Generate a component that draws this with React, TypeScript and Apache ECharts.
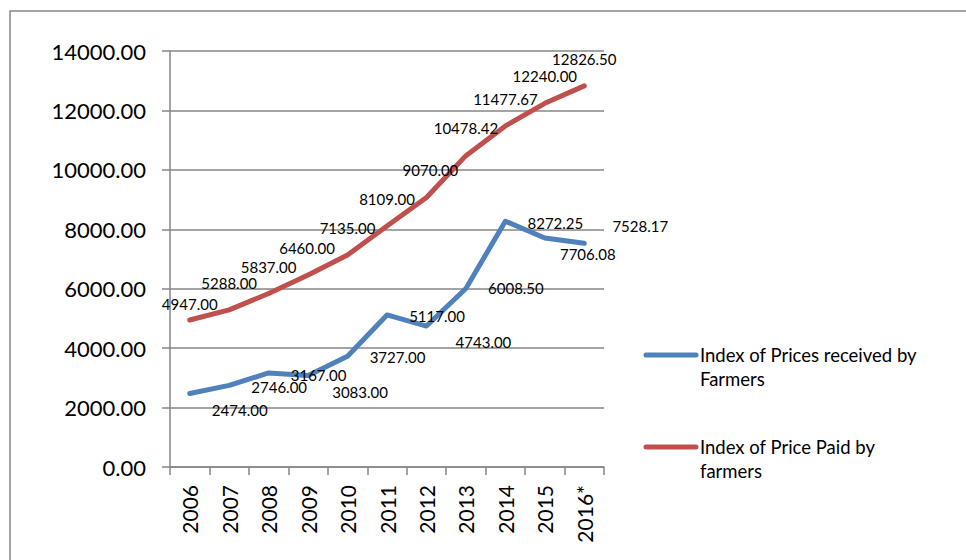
import React, { useEffect, useRef } from "react";
import * as echarts from "echarts";

const years = ["2006", "2007", "2008", "2009", "2010", "2011", "2012", "2013", "2014", "2015", "2016*"];
const pricesReceived = [2474, 2746, 3167, 3083, 3727, 5117, 4743, 6008.5, 8272.25, 7706.08, 7528.17];
const pricesPaid = [4947, 5288, 5837, 6460, 7135, 8109, 9070, 10478.42, 11477.67, 12240, 12826.5];
const yTicks = { min: 0, max: 14000, interval: 2000 };
const seriesNames = ["Index of Prices received by Farmers", "Index of Price Paid by farmers"];
const legendLines = [
  "Index of Prices received by\nFarmers",
  "Index of Price Paid by\nfarmers",
];

// label placement (style only)
const receivedLabelOffsets = [
  [50, 17], [50, 2], [50, 2], [52, 17], [50, 1], [50, 1], [57, 16], [50, 0], [50, 2], [43, 16], [56, -17],
];
const paidLabelOffsets = [
  [0, -16], [0, -27], [0, -27], [-1, -27], [0, -27], [0, -27], [4, -27], [0, -28], [0, -27], [0, -27], [0, -27],
];

const BLUE = "#4F81BD";
const RED = "#C0504D";
const GRAY = "#868686";
const FONT = "Lato, 'Open Sans', sans-serif";

export default function App() {
  const ref = useRef<HTMLDivElement>(null);
  useEffect(() => {
    document.body.style.margin = "0";
    const chart = echarts.init(ref.current!, null, { renderer: "svg" });
    const fmt = (v: number) => Number(v).toFixed(2);
    const mkData = (vals: number[], offs: number[][]) =>
      vals.map((v, i) => ({
        value: v,
        label: { offset: offs[i] },
      }));
    chart.setOption({
      animation: false,
      textStyle: { fontFamily: FONT },
      grid: { left: 170, top: 51, width: 434, height: 416 },
      xAxis: {
        type: "category",
        data: years,
        boundaryGap: true,
        axisLine: { lineStyle: { color: GRAY, width: 1.5 } },
        axisTick: { show: true, length: 8, lineStyle: { color: GRAY, width: 1.5 } },
        axisLabel: { rotate: 90, margin: 18, fontSize: 21, color: "#000", fontFamily: FONT },
      },
      yAxis: {
        type: "value",
        min: yTicks.min,
        max: yTicks.max,
        interval: yTicks.interval,
        axisLine: { show: true, lineStyle: { color: GRAY, width: 1.5 } },
        axisTick: { show: true, length: 8, lineStyle: { color: GRAY, width: 1.5 } },
        splitLine: { show: true, lineStyle: { color: GRAY, width: 1.5 } },
        axisLabel: { formatter: fmt, margin: 24, fontSize: 22, color: "#000", fontFamily: FONT },
      },
      series: [
        {
          name: seriesNames[0],
          type: "line",
          data: mkData(pricesReceived, receivedLabelOffsets),
          symbol: "circle",
          symbolSize: 2,
          itemStyle: { color: BLUE },
          lineStyle: { color: BLUE, width: 5, cap: "round", join: "round" },
          label: {
            show: true,
            position: "inside",
            formatter: (p: any) => fmt(p.value),
            fontSize: 15,
            color: "#000",
            fontFamily: FONT,
          },
          z: 3,
        },
        {
          name: seriesNames[1],
          type: "line",
          data: mkData(pricesPaid, paidLabelOffsets),
          symbol: "circle",
          symbolSize: 2,
          itemStyle: { color: RED },
          lineStyle: { color: RED, width: 5, cap: "round", join: "round" },
          label: {
            show: true,
            position: "inside",
            formatter: (p: any) => fmt(p.value),
            fontSize: 15,
            color: "#000",
            fontFamily: FONT,
          },
          z: 2,
        },
      ],
      graphic: [
        {
          type: "rect",
          shape: { x: 10, y: 11, width: 1000, height: 600 },
          style: { fill: "none", stroke: GRAY, lineWidth: 1.5 },
          silent: true,
        },
        {
          type: "line",
          shape: { x1: 646, y1: 355, x2: 696, y2: 355 },
          style: { stroke: BLUE, lineWidth: 5, lineCap: "round" },
        },
        {
          type: "text",
          x: 700,
          y: 343,
          style: {
            text: legendLines[0],
            fontSize: 18.5,
            lineHeight: 24,
            fontFamily: FONT,
            fill: "#000",
            verticalAlign: "top",
          },
        },
        {
          type: "line",
          shape: { x1: 646, y1: 447, x2: 696, y2: 447 },
          style: { stroke: RED, lineWidth: 5, lineCap: "round" },
        },
        {
          type: "text",
          x: 700,
          y: 435,
          style: {
            text: legendLines[1],
            fontSize: 18.5,
            lineHeight: 24,
            fontFamily: FONT,
            fill: "#000",
            verticalAlign: "top",
          },
        },
      ],
    });
    return () => chart.dispose();
  }, []);
  return <div ref={ref} style={{ width: 966, height: 560, position: "absolute", left: 0, top: 0 }} />;
}
